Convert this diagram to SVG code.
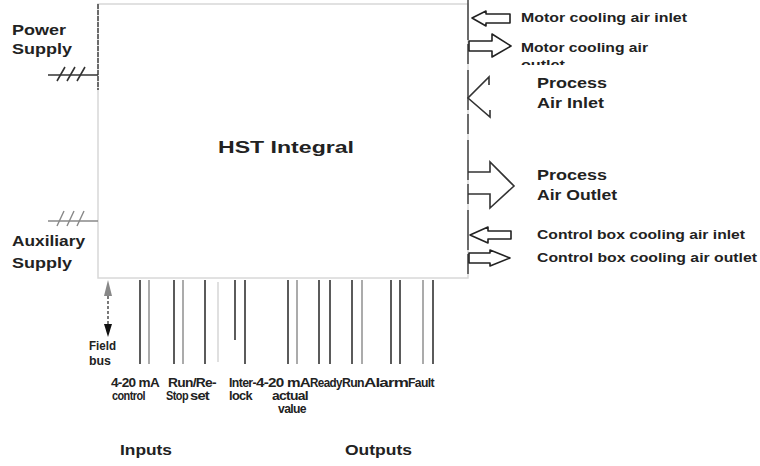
<svg xmlns="http://www.w3.org/2000/svg" width="760" height="466" viewBox="0 0 760 466">
<style>
  text { font-family: "Liberation Sans", Arial, sans-serif; font-weight: bold; fill: #222; }
  .big { font-size: 17px; }
  .lbl { font-size: 15px; }
  .sm { font-size: 12px; }
  .bt { font-size: 12px; letter-spacing: -0.6px; }
  .ln { stroke: #333; stroke-width: 1.6; fill: none; }
  .lg { stroke: #888; stroke-width: 1.4; fill: none; }
  .lf { stroke: #ccc; stroke-width: 1.2; fill: none; }
  .arw { stroke: #222; stroke-width: 1.6; fill: #fff; stroke-linejoin: round; }
</style>
<defs>
  <clipPath id="cut"><rect x="510" y="0" width="250" height="65"/></clipPath>
</defs>
<rect width="760" height="466" fill="#fff"/>

<g id="hst">
  <rect x="98" y="4" width="370" height="274" fill="#fff" stroke="#d8d8d8" stroke-width="1.5"/>
  <line x1="98" y1="4" x2="98" y2="90" stroke="#444" stroke-width="1.5" stroke-dasharray="5 1"/>
  <line x1="468" y1="0" x2="468" y2="276" stroke="#444" stroke-width="1.5" stroke-dasharray="40 4 20 6"/>
  <text class="big" x="218" y="153" textLength="136" lengthAdjust="spacingAndGlyphs">HST Integral</text>
</g>

<g id="power-supply">
  <text class="lbl" x="12" y="35" textLength="54" lengthAdjust="spacingAndGlyphs">Power</text>
  <text class="lbl" x="12" y="54" textLength="60" lengthAdjust="spacingAndGlyphs">Supply</text>
</g>
<g id="auxiliary-supply">
  <text class="lbl" x="12" y="246" textLength="73" lengthAdjust="spacingAndGlyphs">Auxiliary</text>
  <text class="lbl" x="12" y="268" textLength="60" lengthAdjust="spacingAndGlyphs">Supply</text>
</g>
<g id="field-bus">
  <text class="sm" x="89" y="350" textLength="27" lengthAdjust="spacingAndGlyphs">Field</text>
  <text class="sm" x="89" y="365" textLength="22" lengthAdjust="spacingAndGlyphs">bus</text>
</g>

<g id="motor-inlet">
  <text class="sm" x="521" y="22" textLength="166" lengthAdjust="spacingAndGlyphs">Motor cooling air inlet</text>
</g>
<g id="motor-outlet">
  <text class="sm" x="521" y="52" textLength="127" lengthAdjust="spacingAndGlyphs">Motor cooling air</text>
  <text class="sm" x="521" y="69" textLength="44" lengthAdjust="spacingAndGlyphs" clip-path="url(#cut)">outlet</text>
</g>
<g id="process-inlet">
  <text class="lbl" x="537" y="88" textLength="70" lengthAdjust="spacingAndGlyphs">Process</text>
  <text class="lbl" x="537" y="108" textLength="67" lengthAdjust="spacingAndGlyphs">Air Inlet</text>
</g>
<g id="process-outlet">
  <text class="lbl" x="537" y="180" textLength="70" lengthAdjust="spacingAndGlyphs">Process</text>
  <text class="lbl" x="537" y="200" textLength="80" lengthAdjust="spacingAndGlyphs">Air Outlet</text>
</g>
<g id="control-inlet">
  <text class="sm" x="537" y="239" textLength="208" lengthAdjust="spacingAndGlyphs">Control box cooling air inlet</text>
</g>
<g id="control-outlet">
  <text class="sm" x="537" y="262" textLength="220" lengthAdjust="spacingAndGlyphs">Control box cooling air outlet</text>
</g>

<g id="signal-labels">
  <text class="bt" x="111" y="387" textLength="48" lengthAdjust="spacingAndGlyphs">4-20 mA</text>
  <text class="bt" x="112" y="400" textLength="33" lengthAdjust="spacingAndGlyphs">control</text>
  <text class="bt" x="168" y="387" textLength="48" lengthAdjust="spacingAndGlyphs">Run/Re-</text>
  <text class="bt" x="166" y="400" textLength="22" lengthAdjust="spacingAndGlyphs">Stop</text>
  <text class="bt" x="190" y="400" textLength="19" lengthAdjust="spacingAndGlyphs">set</text>
  <text class="bt" x="229" y="387" textLength="27" lengthAdjust="spacingAndGlyphs">Inter-</text>
  <text class="bt" x="229" y="400" textLength="23" lengthAdjust="spacingAndGlyphs">lock</text>
  <text class="bt" x="256" y="387" textLength="54" lengthAdjust="spacingAndGlyphs">4-20 mA</text>
  <text class="bt" x="272" y="400" textLength="36" lengthAdjust="spacingAndGlyphs">actual</text>
  <text class="bt" x="278" y="413" textLength="28" lengthAdjust="spacingAndGlyphs">value</text>
  <text class="bt" x="310" y="387" textLength="32" lengthAdjust="spacingAndGlyphs">Ready</text>
  <text class="bt" x="342" y="387" textLength="22" lengthAdjust="spacingAndGlyphs">Run</text>
  <text class="bt" x="364" y="387" textLength="44" lengthAdjust="spacingAndGlyphs">Alarm</text>
  <text class="bt" x="408" y="387" textLength="26" lengthAdjust="spacingAndGlyphs">Fault</text>
  <text class="lbl" x="120" y="455" textLength="52" lengthAdjust="spacingAndGlyphs">Inputs</text>
  <text class="lbl" x="345" y="455" textLength="67" lengthAdjust="spacingAndGlyphs">Outputs</text>
</g>

<g id="connectors">
  <!-- power supply line -->
  <line class="ln" x1="48" y1="75" x2="98" y2="75" stroke-width="1.4"/>
  <path class="ln" d="M57 81 L65 67 M67 81 L75 67 M77 81 L85 67" stroke-width="1.4"/>
  <!-- auxiliary supply line -->
  <line class="lg" x1="48" y1="221" x2="98" y2="221" stroke="#aaa"/>
  <path class="lg" d="M57 226 L64 211 M67 226 L74 211 M77 226 L84 211" stroke="#999"/>
  <!-- field bus -->
  <polygon points="108,280 104,296 112,296" fill="#888"/>
  <line x1="108" y1="296" x2="108" y2="324" stroke="#333" stroke-width="1.3" stroke-dasharray="3 2"/>
  <polygon points="104,324 112,324 108,337" fill="#111"/>
  <!-- signal lines -->
  <path class="ln" d="M140 280 V364 M174 280 V364 M205 280 V364 M245 280 V364 M288 280 V364 M319 280 V364 M330 280 V364 M352 280 V364 M391 280 V364 M400 280 V364 M433 280 V364"/>
  <path class="ln" d="M235 280 V340"/>
  <path class="lg" d="M149 280 V364 M183 280 V364 M297 280 V364 M362 280 V364 M423 280 V364"/>
  <path class="lf" d="M218 282 V362"/>
  <!-- motor cooling air inlet (left arrow) -->
  <polygon class="arw" points="472,18 486,11 486,14 510,14 510,23 486,23 486,26"/>
  <!-- motor cooling air outlet (right arrow) -->
  <polygon class="arw" points="469,41 492,41 492,34 511,46 492,57 492,51 469,51"/>
  <!-- process air inlet (open arrowhead) -->
  <path class="ln" d="M489 85 V77 L468 98 L490 117 V110" stroke="#222"/>
  <!-- process air outlet (open right arrow) -->
  <path class="ln" d="M468 172 H490 V162 L514 186 L490 208 V194 H468" stroke="#222"/>
  <!-- control box cooling air inlet -->
  <polygon class="arw" points="470,235 488,227 488,231 511,231 511,239 488,239 488,243"/>
  <!-- control box cooling air outlet -->
  <polygon class="arw" points="469,253 490,253 490,250 510,258 490,266 490,263 469,263"/>
</g>
</svg>
